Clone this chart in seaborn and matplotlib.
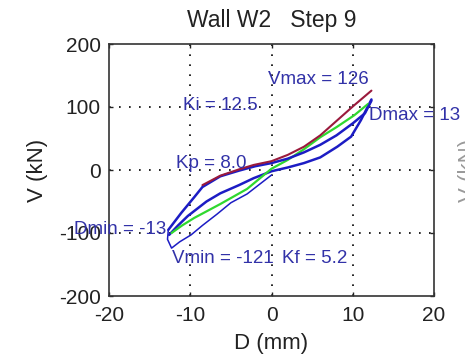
import matplotlib
matplotlib.use("Agg")
import matplotlib.pyplot as plt
import seaborn as sns
import pandas as pd

# ---- data ----
red_D = [-8.5, -6.3, -4.0, -2.2, 0.0, 2.0, 4.0, 6.0, 8.1, 10.2, 12.3]
red_V = [-24, -9, 1, 8, 14, 24, 37, 55, 79, 103, 126]

green_D = [-12.3, -11.0, -9.5, -6.3, -3.0, 0.0, 2.0, 4.0, 6.0, 8.0, 10.2, 11.9]
green_V = [-100, -88, -76, -54, -30, 2, 16, 33, 52, 68, 87, 105]

# blue: descending outer branch (negative side), rising branch, descending branch
blue_c_D = [0.0, -3.0, -5.0, -6.7, -8.5, -9.9, -11.3, -12.3, -12.8, -12.7]
blue_c_V = [-8, -38, -52, -70, -88, -103, -114, -124, -110, -95]

blue_up_D = [-12.7, -11.1, -9.5, -8.5, -6.3, -4.0, -2.0, 0.0, 2.0, 4.0, 6.0, 8.0, 10.0, 11.5, 12.3]
blue_up_V = [-95, -68, -43, -27, -10, -1, 6, 11, 18, 28, 40, 55, 74, 90, 110]

blue_dn_D = [12.3, 11.0, 9.8, 8.1, 6.0, 4.0, 2.0, 0.0, -2.2, -4.0, -6.3, -8.0, -10.3, -11.5, -12.6]
blue_dn_V = [112, 79, 53, 37, 20, 11, 4, -2, -13, -24, -37, -50, -73, -88, -103]

x_ticks = [-20, -10, 0, 10, 20]
y_ticks = [-200, -100, 0, 100, 200]

title = "Wall W2   Step 9"
x_label = "D (mm)"
y_label = "V (kN)"

annotations = [
    ("Vmax = 126", -0.4, 143, "left"),
    ("Ki = 12.5", -10.85, 102, "left"),
    ("Dmax = 13", 12.0, 86, "left"),
    ("Kp = 8.0", -11.7, 11, "left"),
    ("Dmin = -13", -12.9, -95, "right"),
    ("Vmin = -121", -12.3, -140, "left"),
    ("Kf = 5.2", 1.25, -140, "left"),
]

# ---- style ----
sns.set_style("white")
plt.rcParams["font.family"] = ["Liberation Sans", "DejaVu Sans"]

BLUE = "#1c1cc4"
RED = "#9a1a3c"
GREEN = "#2fd82f"
TEXT = "#3232a8"

fig = plt.figure(figsize=(4.65, 3.62), dpi=100)
ax = fig.add_axes([109 / 465, 1 - 296 / 362, (434 - 109) / 465, (296 - 44) / 362])

def trace(D, V, color, lw):
    df = pd.DataFrame({"D": D, "V": V})
    sns.lineplot(data=df, x="D", y="V", sort=False, estimator=None,
                 color=color, linewidth=lw, ax=ax)

trace(blue_c_D, blue_c_V, BLUE, 1.1)
trace(blue_dn_D, blue_dn_V, BLUE, 1.8)
trace(green_D, green_V, GREEN, 1.6)
trace(blue_up_D, blue_up_V, BLUE, 1.8)
trace(red_D, red_V, RED, 1.5)

ax.set_xlim(-20, 20)
ax.set_ylim(-200, 200)
ax.set_xticks(x_ticks)
ax.set_yticks(y_ticks)
ax.set_xticklabels([str(t) for t in x_ticks])
ax.set_yticklabels([str(t) for t in y_ticks])

for t in [-10, 0, 10]:
    ax.axvline(t, color="black", linestyle=(0, (1, 5)), linewidth=1.2, zorder=0)
for t in [-100, 0, 100]:
    ax.axhline(t, color="black", linestyle=(0, (1, 5)), linewidth=1.2, zorder=0)

ax.tick_params(direction="in", length=3, width=1, labelsize=15,
               top=True, right=True, bottom=True, left=True, pad=6,
               colors="#222222")
ax.tick_params(axis="x", pad=7)
for s in ax.spines.values():
    s.set_color("#333333")
    s.set_linewidth(1.2)

ax.set_xlabel(x_label, fontsize=16, color="#222222", labelpad=6)
ax.set_ylabel(y_label, fontsize=16, color="#222222", labelpad=8)
ax.set_title(title, fontsize=16.5, color="#222222", pad=12)

for txt, x, y, ha in annotations:
    ax.text(x, y, txt, color=TEXT, fontsize=13.5, ha=ha, va="center",
            clip_on=False, zorder=5)

# fragment of the neighbouring panel's axis label at the right edge
fig.text(458 / 465, 1 - 170 / 362, "V (kN)", rotation=90, fontsize=16,
         color="#9a9a9a", ha="left", va="center")

fig.savefig("out.png", dpi=100)
